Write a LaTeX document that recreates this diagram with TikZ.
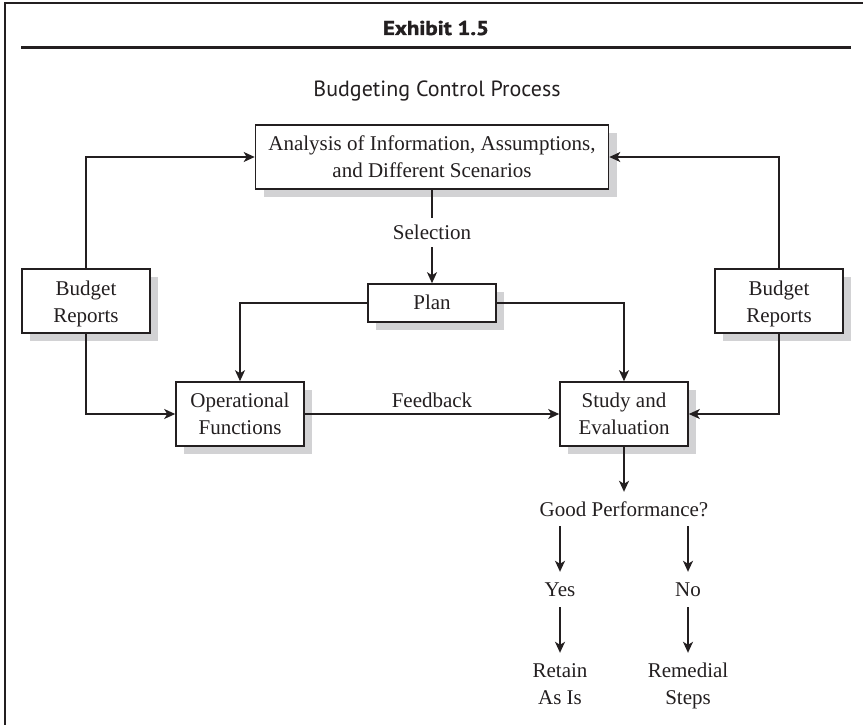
\documentclass[tikz,border=0pt]{standalone}
\usepackage{fontspec}
\setmainfont{Liberation Serif}
\newfontfamily\headfont{PT Sans}
\newfontfamily\titlefont[BoldFeatures={FakeBold=1.6}]{PT Sans}
\usetikzlibrary{arrows.meta,shadows}
\definecolor{shadowgray}{HTML}{D2D2D4}
\definecolor{ink}{HTML}{231F20}
\tikzset{
  box/.style={draw=ink, line width=1.6pt, fill=white, inner sep=0pt,
    drop shadow={shadow xshift=8pt, shadow yshift=-8pt, fill=shadowgray, opacity=1}},
  lbl/.style={align=center, inner sep=0pt, font=\fontsize{21}{27}\selectfont, text=ink},
  conn/.style={draw=ink, line width=1.6pt},
  arr/.style={conn, -{Stealth[length=11pt, width=10pt, inset=3pt]}},
}
\begin{document}
\begin{tikzpicture}[x=1pt, y=-1pt]
\useasboundingbox (0,0) rectangle (863,725);
% frame
\draw[ink, line width=2pt] (863,3) -- (4.5,3) -- (4.5,725);
\draw[ink, line width=3pt] (21,48) -- (851,48);
\node[anchor=base, inner sep=0pt, text=ink, font=\titlefont\bfseries\fontsize{20}{24}\selectfont] (title) at (436,35) {\scalebox{1.14}[1]{Exhibit 1.5}};
\node[anchor=base, inner sep=0pt, text=ink, font=\headfont\fontsize{22}{26}\selectfont] (subtitle) at (437,96) {Budgeting Control Process};
% boxes
\node[box, minimum width=353pt, minimum height=64pt] (ana) at (432,157) {};
\node[box, minimum width=128pt, minimum height=64pt] (bl) at (86,301) {};
\node[box, minimum width=128pt, minimum height=64pt] (br) at (779,301) {};
\node[box, minimum width=128pt, minimum height=38pt] (plan) at (432,303) {};
\node[box, minimum width=128pt, minimum height=64pt] (op) at (240,414) {};
\node[box, minimum width=128pt, minimum height=64pt] (st) at (624,414) {};
\node[lbl] (anat) at (ana.center) {Analysis of Information, Assumptions,\\and Different Scenarios};
\node[lbl] (blt) at ([yshift=-3pt]bl.center) {Budget\\Reports};
\node[lbl] (brt) at ([yshift=-3pt]br.center) {Budget\\Reports};
\node[lbl] (plant) at ([yshift=1pt]plan.center) {Plan};
\node[lbl] (opt) at (op.center) {Operational\\Functions};
\node[lbl] (stt) at (st.center) {Study and\\Evaluation};
% labels
\node[lbl, minimum height=29pt] (sel) at (432,232.5) {Selection};
\node[lbl] (fb) at (432,400) {Feedback};
\node[lbl, minimum height=34pt] (gp) at (624,509) {Good Performance?};
\node[lbl, minimum height=35pt] (yes) at (560,589.5) {Yes};
\node[lbl, minimum height=35pt] (no) at (688,589.5) {No};
\node[lbl, minimum height=62pt] (ret) at (560,684) {Retain\\As Is};
\node[lbl, minimum height=62pt] (rem) at (688,686) {Remedial\\Steps};
% connectors
\draw[arr] (bl.north) |- (ana.west);
\draw[arr] (br.north) |- (ana.east);
\draw[arr] (bl.south) |- (op.west);
\draw[arr] (br.south) |- (st.east);
\draw[conn] (ana.south) -- (sel.north);
\draw[arr] (sel.south) -- (plan.north);
\draw[arr] (plan.west) -| (op.north);
\draw[arr] (plan.east) -| (st.north);
\draw[arr] (op.east) -- (st.west);
\draw[arr] (st.south) -- (gp.north);
\draw[arr] (gp.south -| yes.north) -- (yes.north);
\draw[arr] (gp.south -| no.north) -- (no.north);
\draw[arr] (yes.south) -- (ret.north);
\draw[arr] (no.south) -- (ret.north -| rem.north);
\end{tikzpicture}
\end{document}
